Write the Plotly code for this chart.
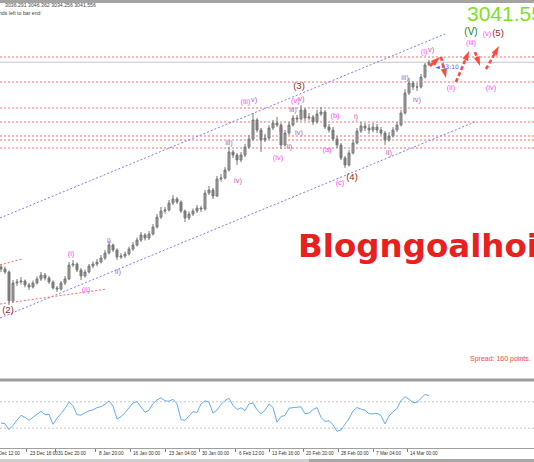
import plotly.graph_objects as go

# ---------------- data (H4 bars) ----------------
bar_index = list(range(108))
open_ = [2632, 2628, 2622, 2564, 2600, 2602, 2604, 2596, 2592, 2600,
         2608, 2616, 2610, 2602, 2590, 2588, 2600, 2608, 2636, 2638,
         2626, 2614, 2622, 2634, 2638, 2642, 2650, 2660, 2676, 2666,
         2652, 2654, 2658, 2668, 2676, 2686, 2696, 2690, 2698, 2712,
         2732, 2744, 2746, 2760, 2768, 2762, 2744, 2730, 2738, 2744,
         2750, 2748, 2780, 2786, 2774, 2808, 2810, 2826, 2862, 2856,
         2846, 2856, 2872, 2888, 2926, 2906, 2886, 2890, 2910, 2920,
         2916, 2876, 2900, 2916, 2930, 2928, 2946, 2930, 2932, 2922,
         2938, 2942, 2912, 2906, 2888, 2876, 2850, 2836, 2860, 2880,
         2904, 2914, 2910, 2906, 2912, 2906, 2900, 2886, 2894, 2906,
         2916, 2940, 2980, 3000, 2992, 2992, 3012, 3036.291]
high = [2638, 2633, 2625, 2606, 2608, 2612, 2607, 2600, 2605, 2613,
        2622, 2620, 2614, 2605, 2594, 2604, 2614, 2642, 2646, 2641,
        2630, 2627, 2638, 2643, 2648, 2656, 2666, 2684, 2679, 2669,
        2660, 2663, 2673, 2682, 2691, 2702, 2700, 2704, 2718, 2738,
        2752, 2752, 2766, 2776, 2772, 2765, 2747, 2743, 2749, 2756,
        2754, 2786, 2794, 2790, 2814, 2818, 2832, 2872, 2866, 2860,
        2862, 2878, 2896, 2940, 2930, 2910, 2898, 2916, 2926, 2932,
        2920, 2906, 2922, 2936, 2936, 2956, 2950, 2940, 2936, 2946,
        2952, 2946, 2918, 2912, 2894, 2880, 2854, 2866, 2886, 2910,
        2922, 2920, 2918, 2920, 2918, 2912, 2904, 2902, 2912, 2922,
        2946, 2988, 3010, 3004, 3000, 3018, 3040, 3046.362]
low = [2622, 2618, 2556, 2560, 2594, 2597, 2591, 2586, 2589, 2597,
       2604, 2605, 2598, 2587, 2582, 2585, 2596, 2606, 2632, 2622,
       2606, 2611, 2619, 2630, 2634, 2639, 2646, 2657, 2662, 2646,
       2648, 2650, 2655, 2664, 2673, 2682, 2685, 2686, 2695, 2709,
       2728, 2739, 2743, 2756, 2758, 2740, 2722, 2726, 2734, 2740,
       2742, 2745, 2776, 2768, 2772, 2803, 2807, 2823, 2850, 2836,
       2842, 2852, 2869, 2885, 2901, 2862, 2882, 2887, 2906, 2912,
       2868, 2873, 2896, 2913, 2922, 2925, 2924, 2925, 2916, 2919,
       2934, 2908, 2901, 2884, 2870, 2846, 2830, 2833, 2857, 2877,
       2900, 2904, 2898, 2901, 2900, 2896, 2876, 2883, 2891, 2902,
       2913, 2937, 2976, 2986, 2984, 2989, 3009, 3034.256]
close = [2628, 2622, 2564, 2600, 2602, 2604, 2596, 2592, 2600, 2608,
         2616, 2610, 2602, 2590, 2588, 2600, 2608, 2636, 2638, 2626,
         2614, 2622, 2634, 2638, 2642, 2650, 2660, 2676, 2666, 2652,
         2654, 2658, 2668, 2676, 2686, 2696, 2690, 2698, 2712, 2732,
         2744, 2746, 2760, 2768, 2762, 2744, 2730, 2738, 2744, 2750,
         2748, 2780, 2786, 2774, 2808, 2810, 2826, 2862, 2856, 2846,
         2856, 2872, 2888, 2926, 2906, 2886, 2890, 2910, 2920, 2916,
         2876, 2900, 2916, 2930, 2928, 2946, 2930, 2932, 2922, 2938,
         2942, 2912, 2906, 2888, 2876, 2850, 2836, 2860, 2880, 2904,
         2914, 2910, 2906, 2912, 2906, 2900, 2886, 2894, 2906, 2916,
         2940, 2980, 3000, 2992, 2992, 3012, 3036, 3041.556]
rsi = [37.9, 36.7, 27.9, 34.1, 42.4, 49.5, 46.5, 41.8, 46.7, 50.5,
       55.5, 50.6, 50.8, 35.9, 45.2, 52.1, 59.7, 69.9, 63.8, 50.5,
       49.7, 53.5, 56.4, 57.9, 61.1, 62.6, 66.2, 71.5, 63.6, 43.9,
       47.4, 53.6, 61.6, 68.3, 70.2, 63.0, 54.1, 57.3, 67.3, 73.0,
       76.1, 71.5, 70.8, 73.8, 66.7, 43.0, 41.8, 48.5, 55.0, 53.9,
       66.8, 71.5, 69.4, 53.0, 57.6, 65.9, 72.0, 75.3, 64.5, 58.3,
       60.9, 56.5, 67.0, 68.2, 57.9, 52.1, 57.1, 66.7, 61.4, 39.1,
       47.7, 49.2, 60.3, 61.2, 62.1, 62.4, 52.0, 53.0, 58.3, 61.1,
       46.5, 40.0, 41.5, 35.2, 25.3, 27.3, 36.1, 44.2, 56.2, 61.4,
       58.8, 57.3, 52.0, 51.7, 52.6, 49.2, 36.5, 48.5, 54.7, 60.0,
       72.0, 77.6, 73.8, 68.9, 69.1, 75.5, 81.1, 79.4]
rsi_levels = [70, 30]

tick_bars = [-3.0, 6.42, 13.5, 23.67, 32.25, 41.17, 49.5, 58.67, 67.0, 75.5, 84.25, 93.0, 101.5]
tick_text = ["16 Dec 12:00", "23 Dec 16:00", "31 Dec 20:00", "8 Jan 20:00", "16 Jan 00:00",
             "23 Jan 04:00", "30 Jan 00:00", "6 Feb 12:00", "13 Feb 16:00", "20 Feb 20:00",
             "28 Feb 00:00", "7 Mar 04:00", "14 Mar 00:00"]

level_prices = [3052, 3002, 2950, 2922, 2894, 2886, 2870]
channel_upper_x = [-0.25, 111.0]
channel_upper_y = [2730, 3098]
channel_lower_x = [-0.25, 119.0]
channel_lower_y = [2530, 2924]
red_trend_a_x = [-0.25, 5.25]
red_trend_a_y = [2636, 2648]
red_trend_b_x = [-0.25, 26.5]
red_trend_b_y = [2558, 2588]

# projected path (red dashed arrows): start/end points
proj_x0 = [107.25, 110.0, 113.75, 118.5, 121.25]
proj_y0 = [3034, 3052, 3002, 3062, 3028]
proj_x1 = [109.75, 111.25, 117.0, 119.75, 124.5]
proj_y1 = [3052, 3010, 3064, 3034, 3074]

# wave labels
magenta_text = ["(i)", "(ii)", "(iii)", "(v)", "(iv)", "(b)", "(a)", "(c)", "(i)", "(ii)", "(iii)", "(iv)", "(v)"]
magenta_x = [17.5, 21.25, 61.1, 73.6, 69.25, 83.5, 81.5, 84.75, 105.75, 112.5, 117.5, 122.5, 121.5]
magenta_y = [2658, 2586, 2962, 2963, 2850, 2934, 2866, 2800, 3062, 2990, 3080, 2990, 3098]

purple_text = ["i)", "ii)", "iii)", "iv)", "v)", "v)", "iii)", "i)", "ii)", "iv)", "i)", "ii)", "iii)", "iv)", "v)"]
purple_x = [27.0, 29.25, 57.0, 59.25, 63.3, 75.1, 73.0, 70.0, 72.1, 74.5, 88.75, 97.0, 101.0, 104.0, 107.5]
purple_y = [2684, 2622, 2880, 2804, 2966, 2967, 2946, 2906, 2872, 2900, 2932, 2860, 3010, 2966, 3066]

maroon_text = ["(2)", "(3)", "(4)", "(5)"]
maroon_x = [1.75, 74.5, 87.75, 124.25]
maroon_y = [2544, 2992, 2810, 3098]

green_text = ["(V)"]
green_x = [117.5]
green_y = [3102]

timer_text = "\u25c4 43:10"
spread_text = "Spread: 160 points."

# ---------------- figure ----------------
W, H = 534, 462
X_RANGE = [-0.25, 133.25]
main_dom = [(H - 379) / H, (H - 3) / H]
ind_dom = [(H - 448) / H, (H - 382) / H]

fig = go.Figure()

fig.add_trace(go.Candlestick(
    x=bar_index, open=open_, high=high, low=low, close=close,
    increasing=dict(line=dict(color="#7a7a7a", width=1), fillcolor="#a0a0a0"),
    decreasing=dict(line=dict(color="#7a7a7a", width=1), fillcolor="#7a7a7a"),
    whiskerwidth=0, xaxis="x", yaxis="y", hoverinfo="skip",
))

# channel and trend lines
for xs, ys, col in [(channel_upper_x, channel_upper_y, "#7b7bff"),
                    (channel_lower_x, channel_lower_y, "#7b7bff"),
                    (red_trend_a_x, red_trend_a_y, "#ff6a6a"),
                    (red_trend_b_x, red_trend_b_y, "#ff6a6a")]:
    fig.add_trace(go.Scatter(x=xs, y=ys, mode="lines",
                             line=dict(color=col, width=1, dash="2px,2px"),
                             xaxis="x", yaxis="y", hoverinfo="skip"))

# projection arrows
for a in range(len(proj_x0)):
    fig.add_trace(go.Scatter(
        x=[proj_x0[a], proj_x1[a]], y=[proj_y0[a], proj_y1[a]],
        mode="lines+markers",
        line=dict(color="#ff4a3d", width=2.6, dash="4px,2.5px"),
        marker=dict(symbol="arrow", size=[0, 10], angleref="previous",
                    color="#ff4a3d", opacity=[0, 1], line=dict(width=0)),
        xaxis="x", yaxis="y", hoverinfo="skip"))

# wave labels
for txt, xs, ys, col, sz in [(magenta_text, magenta_x, magenta_y, "#ff4dff", 7.5),
                             (purple_text, purple_x, purple_y, "#b45cc4", 7.5),
                             (maroon_text, maroon_x, maroon_y, "#9a1f1f", 9.5),
                             (green_text, green_x, green_y, "#217a21", 10)]:
    fig.add_trace(go.Scatter(x=xs, y=ys, mode="text", text=txt,
                             textposition="middle center",
                             textfont=dict(family="Liberation Sans", size=sz, color=col),
                             xaxis="x", yaxis="y", hoverinfo="skip"))

# RSI
fig.add_trace(go.Scatter(x=bar_index, y=rsi, mode="lines",
                         line=dict(color="#62adff", width=1),
                         xaxis="x2", yaxis="y2", hoverinfo="skip"))

shapes = []
for p in level_prices:
    shapes.append(dict(type="line", xref="paper", yref="y", x0=0, x1=1, y0=p, y1=p,
                       line=dict(color="#ff6a6a", width=1, dash="2px,2px"), layer="below"))
shapes.append(dict(type="line", xref="paper", yref="y", x0=0, x1=1, y0=close[-1], y1=close[-1],
                   line=dict(color="#c4c4c4", width=1), layer="below"))
for lv in rsi_levels:
    shapes.append(dict(type="line", xref="paper", yref="y2", x0=0, x1=1, y0=lv, y1=lv,
                       line=dict(color="#c8c8c8", width=1, dash="2px,2px"), layer="below"))
# window frame pieces
shapes.append(dict(type="rect", xref="paper", yref="paper", x0=0, x1=1,
                   y0=(H - 3) / H, y1=1, fillcolor="#a3a3a3", line=dict(width=0)))
shapes.append(dict(type="rect", xref="paper", yref="paper", x0=0, x1=1,
                   y0=(H - 381.5) / H, y1=(H - 378.5) / H, fillcolor="#9c9c9c", line=dict(width=0)))
shapes.append(dict(type="rect", xref="paper", yref="paper", x0=0, x1=1,
                   y0=0, y1=3 / H, fillcolor="#cfcfcf", line=dict(width=0)))
shapes.append(dict(type="rect", xref="paper", yref="paper", x0=309 / W, x1=1,
                   y0=0, y1=3 / H, fillcolor="#a8a8a8", line=dict(width=0)))

annotations = []
span = X_RANGE[1] - X_RANGE[0]
for tb, tt in zip(tick_bars, tick_text):
    annotations.append(dict(xref="paper", yref="paper",
                            x=(tb - X_RANGE[0]) / span + 1.2 / W, y=(H - 453) / H,
                            text=tt, showarrow=False, xanchor="left", yanchor="middle",
                            font=dict(family="Liberation Sans", size=4.7, color="#333333")))
annotations.append(dict(xref="paper", yref="paper", x=3 / W, y=(H - 5) / H,
                        text=f"{open_[-1]:.3f} {high[-1]:.3f} {low[-1]:.3f} {close[-1]:.3f}",
                        showarrow=False, xanchor="left", yanchor="middle",
                        font=dict(family="Liberation Sans", size=5.2, color="#444444")))
annotations.append(dict(xref="paper", yref="paper", x=43 / W, y=(H - 12.5) / H,
                        text="seconds left to bar end", showarrow=False,
                        xanchor="right", yanchor="middle",
                        font=dict(family="Liberation Sans", size=5.2, color="#444444")))
annotations.append(dict(xref="paper", yref="paper", x=465 / W, y=(H - 13.5) / H,
                        text=f"{close[-1]:.3f}", showarrow=False,
                        xanchor="left", yanchor="middle",
                        font=dict(family="Liberation Sans", size=21, color="#7ee21c")))
annotations.append(dict(xref="paper", yref="paper", x=296 / W, y=(H - 246) / H,
                        text="<b>Blogngoalhoi.com</b>", showarrow=False,
                        xanchor="left", yanchor="middle",
                        font=dict(family="DejaVu Sans", size=32.5, color="#e8201e")))
annotations.append(dict(xref="paper", yref="paper", x=533 / W, y=(H - 359) / H,
                        text=spread_text, showarrow=False,
                        xanchor="right", yanchor="middle",
                        font=dict(family="Liberation Sans", size=7, color="#ff4545")))
annotations.append(dict(xref="x", yref="y", x=108.0, y=close[-1] - 8,
                        text=timer_text, showarrow=False,
                        xanchor="left", yanchor="middle",
                        font=dict(family="DejaVu Sans", size=6, color="#4a5cff")))

fig.update_layout(
    width=W, height=H, margin=dict(l=0, r=0, t=0, b=0),
    paper_bgcolor="white", plot_bgcolor="white", showlegend=False,
    hovermode=False,
    xaxis=dict(domain=[0, 1], range=X_RANGE, anchor="y", showgrid=False, zeroline=False,
               showticklabels=False, rangeslider=dict(visible=False), fixedrange=True),
    yaxis=dict(domain=main_dom, range=[2408, 3160], showgrid=False, zeroline=False,
               showticklabels=False, fixedrange=True),
    xaxis2=dict(domain=[0, 1], matches="x", anchor="y2", showgrid=False, zeroline=False,
                showticklabels=False, showline=True, linecolor="#a0a0a0", linewidth=1,
                ticks="outside", tickvals=tick_bars, ticklen=3, tickcolor="#808080",
                rangeslider=dict(visible=False)),
    yaxis2=dict(domain=ind_dom, range=[0, 100], showgrid=False, zeroline=False,
                showticklabels=False, fixedrange=True),
    shapes=shapes, annotations=annotations,
)

fig.write_html("out.html", config={"displayModeBar": False, "staticPlot": True},
               post_script="document.body.style.margin='0';document.body.style.overflow='hidden';")
